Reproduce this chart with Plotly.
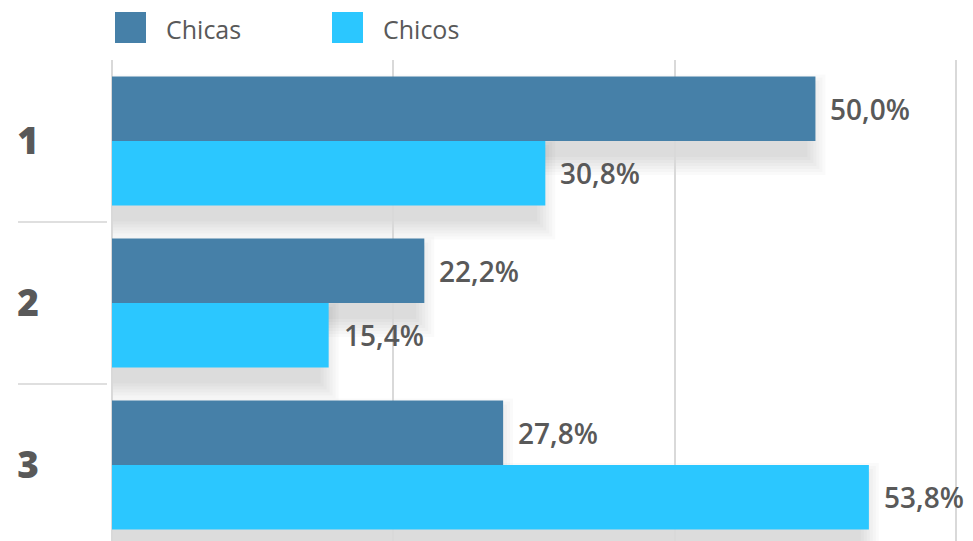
import plotly.graph_objects as go

# Survey results by group, in percent
categories = ["1", "2", "3"]
series_names = ["Chicas", "Chicos"]
chicas = [50.0, 22.2, 27.8]
chicos = [30.8, 15.4, 53.8]
x_ticks = [0, 20, 40, 60]

colors = {"Chicas": "#4680A8", "Chicos": "#2BC7FF"}
text_color = "#595959"
font_family = "Open Sans, Lato, sans-serif"

W, H = 973, 541
ML, MT = 112, 60
plot_w = W - ML
plot_h = H - MT
x_max = 61.2
y_top, y_bot = -0.5, 2.469
px_x = plot_w / x_max
px_y = plot_h / (y_bot - y_top)

bargap = 0.204
bar_h = (1 - bargap) / 2  # thickness of each bar in category units

ypos = list(range(len(categories)))

fig = go.Figure()
for name, vals in zip(series_names, [chicas, chicos]):
    fig.add_trace(go.Bar(
        name=name, y=ypos, x=vals, orientation="h",
        marker=dict(color=colors[name], line=dict(width=0)),
        showlegend=False, hoverinfo="x+name",
    ))

shapes = []
annotations = []

# soft drop shadows beneath each bar (stacked translucent layers)
off_y = 16 / px_y
for s_idx, vals in enumerate([chicas, chicos]):
    for i, v in enumerate(vals):
        yc = i + (s_idx - 0.5) * bar_h
        for k in range(7):
            ex = k * 3.0
            shapes.append(dict(
                type="rect", xref="x", yref="y", layer="below",
                x0=0, x1=v - (8 - ex) / px_x,
                y0=yc - bar_h / 2 + off_y - ex / px_y,
                y1=yc + bar_h / 2 + off_y + ex / px_y,
                fillcolor="rgba(0,0,0,0.018)", line=dict(width=0),
            ))
        annotations.append(dict(
            x=v, y=yc, xref="x", yref="y", xanchor="left", yanchor="middle",
            xshift=13, showarrow=False,
            text=f"{v:.1f}".replace(".", ",") + "%",
            font=dict(family=font_family, size=28, color=text_color, weight=600),
        ))

# separators between the category labels
for b in [0.5, 1.5]:
    shapes.append(dict(
        type="line", xref="paper", yref="y",
        x0=(18 - ML) / plot_w, x1=(107 - ML) / plot_w, y0=b, y1=b,
        line=dict(color="#d4d4d4", width=1.5),
    ))

# legend: colour squares with names
legend_x = [115, 332]
for name, lx in zip(series_names, legend_x):
    shapes.append(dict(
        type="rect", xref="paper", yref="paper",
        x0=(lx - ML) / plot_w, x1=(lx + 31 - ML) / plot_w,
        y0=1 + (MT - 12) / plot_h, y1=1 + (MT - 43) / plot_h,
        fillcolor=colors[name], line=dict(width=0),
    ))
    annotations.append(dict(
        x=(lx + 49 - ML) / plot_w, y=1 + (MT - 29) / plot_h,
        xref="paper", yref="paper", xanchor="left", yanchor="middle",
        showarrow=False, text=name,
        font=dict(family=font_family, size=25, color=text_color, weight=500),
    ))

fig.update_layout(
    width=W, height=H,
    margin=dict(l=ML, r=0, t=MT, b=0, pad=0),
    paper_bgcolor="white", plot_bgcolor="white",
    barmode="group", bargap=bargap, bargroupgap=0,
    shapes=shapes, annotations=annotations,
    xaxis=dict(
        range=[0, x_max], tickvals=x_ticks, showticklabels=False,
        showgrid=True, gridcolor="#d9d9d9", gridwidth=2,
        zeroline=True, zerolinecolor="#d9d9d9", zerolinewidth=2,
        showline=False, fixedrange=True,
    ),
    yaxis=dict(
        range=[y_bot, y_top], tickvals=ypos, ticktext=categories,
        showgrid=False, zeroline=False, showline=False, ticks="",
        ticklabelstandoff=72,
        tickfont=dict(family=font_family, size=37, color=text_color, weight=800),
        fixedrange=True,
    ),
    font=dict(family=font_family, color=text_color),
)

fig.write_html("out.html")
